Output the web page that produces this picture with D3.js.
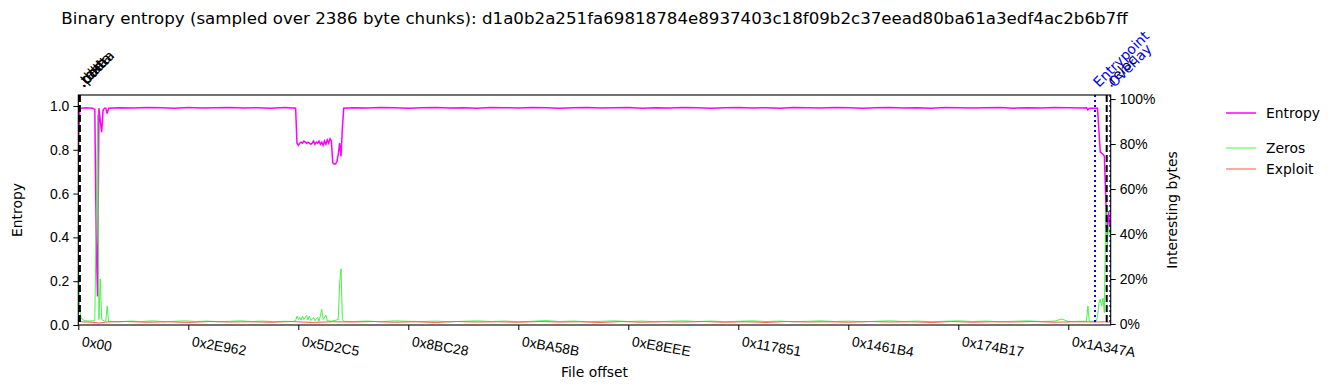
<!DOCTYPE html>
<html>
<head>
<meta charset="utf-8">
<script src="https://cdn.jsdelivr.net/npm/d3@7"></script>
<style>
  body { margin: 0; background: #fff; }
  svg { font-family: "DejaVu Sans", sans-serif; }
</style>
</head>
<body>
<div id="chart"></div>
<script>
// Binary entropy chart: entropy on the left axis, interesting-byte ratios on the right

const title = 'Binary entropy (sampled over 2386 byte chunks): d1a0b2a251fa69818784e8937403c18f09b2c37eead80ba61a3edf4ac2b6b7ff';
const chunkSize = 2386;
const fileEnd = 1790932;

// [chunk index, entropy 0..1]
const entropy = [
    [0, 0.78], [1, 0.98], [2, 0.99], [6, 0.992], [10, 0.99], [12, 0.985], [13, 0.40], [14, 0.13],
    [15, 0.99], [16, 0.93], [17, 0.88], [18, 0.98], [19, 0.99], [20, 0.99], [21, 0.965], [22, 0.99],
    [30, 0.992], [40, 0.991], [50, 0.993], [60, 0.992], [70, 0.990], [80, 0.993], [90, 0.991],
    [100, 0.992], [110, 0.993], [120, 0.991], [130, 0.992], [140, 0.990], [150, 0.993], [156, 0.991],
    [158, 0.99], [159, 0.83], [160, 0.82], [161, 0.83], [162, 0.835], [163, 0.83], [164, 0.84],
    [165, 0.835], [166, 0.83], [167, 0.835], [168, 0.83], [169, 0.825], [170, 0.83], [171, 0.84],
    [172, 0.825], [173, 0.835], [174, 0.83], [175, 0.84], [176, 0.825], [177, 0.835], [178, 0.82],
    [179, 0.84], [180, 0.825], [181, 0.845], [182, 0.83], [183, 0.85], [184, 0.84], [185, 0.74],
    [186, 0.735], [187, 0.735], [188, 0.745], [189, 0.78], [190, 0.83], [191, 0.77], [192, 0.90],
    [193, 0.99], [200, 0.992], [210, 0.991], [220, 0.993], [230, 0.992], [240, 0.990], [250, 0.992],
    [260, 0.993], [270, 0.991], [280, 0.992], [290, 0.990], [300, 0.993], [310, 0.992], [320, 0.991],
    [330, 0.993], [340, 0.992], [350, 0.990], [360, 0.992], [370, 0.993], [380, 0.991], [390, 0.992],
    [400, 0.993], [410, 0.990], [420, 0.992], [430, 0.991], [440, 0.993], [450, 0.992], [460, 0.990],
    [470, 0.992], [480, 0.993], [490, 0.991], [500, 0.992], [510, 0.990], [520, 0.993], [530, 0.992],
    [540, 0.991], [550, 0.993], [560, 0.992], [570, 0.990], [580, 0.992], [590, 0.993], [600, 0.991],
    [610, 0.992], [620, 0.990], [630, 0.993], [640, 0.992], [650, 0.991], [660, 0.992], [670, 0.993],
    [680, 0.990], [690, 0.992], [700, 0.991], [710, 0.993], [720, 0.992], [730, 0.991], [733, 0.992],
    [734, 0.982], [735, 0.99], [741, 0.99], [742, 0.89], [743, 0.79], [744, 0.785], [745, 0.78],
    [746, 0.77], [747, 0.58], [748, 0.40], [749, 0.52], [750, 0.45]
];

// [chunk index, share of zero bytes 0..1]
const zeros = [
    [0, 0.33], [1, 0.06], [2, 0.03], [3, 0.02], [5, 0.015], [8, 0.013], [12, 0.015], [13, 0.45],
    [14, 0.93], [15, 0.02], [16, 0.20], [17, 0.02], [19, 0.013], [20, 0.015], [21, 0.08], [22, 0.012],
    [30, 0.010], [38, 0.013], [46, 0.011], [54, 0.014], [62, 0.010], [70, 0.012], [78, 0.014],
    [86, 0.011], [94, 0.013], [102, 0.010], [110, 0.012], [118, 0.014], [126, 0.011], [134, 0.013],
    [142, 0.010], [150, 0.012], [156, 0.011], [158, 0.015], [159, 0.035], [160, 0.02], [161, 0.03],
    [162, 0.018], [163, 0.035], [164, 0.02], [166, 0.038], [167, 0.018], [168, 0.035], [169, 0.015],
    [171, 0.028], [172, 0.015], [174, 0.03], [175, 0.012], [177, 0.065], [178, 0.02], [180, 0.04],
    [181, 0.015], [184, 0.012], [189, 0.02], [190, 0.18], [191, 0.245], [192, 0.02], [193, 0.012],
    [200, 0.011], [210, 0.013], [220, 0.010], [230, 0.014], [240, 0.012], [250, 0.011], [260, 0.013],
    [270, 0.010], [280, 0.012], [290, 0.014], [300, 0.011], [310, 0.013], [320, 0.010], [330, 0.012],
    [340, 0.015], [350, 0.011], [360, 0.013], [370, 0.010], [380, 0.012], [390, 0.014], [400, 0.011],
    [410, 0.013], [420, 0.010], [430, 0.012], [440, 0.014], [450, 0.011], [460, 0.013], [470, 0.010],
    [480, 0.012], [490, 0.014], [500, 0.011], [510, 0.013], [520, 0.010], [530, 0.012], [540, 0.014],
    [550, 0.011], [560, 0.013], [570, 0.010], [580, 0.012], [590, 0.014], [600, 0.011], [610, 0.013],
    [620, 0.010], [630, 0.012], [640, 0.014], [650, 0.011], [660, 0.013], [670, 0.010], [680, 0.012],
    [690, 0.014], [700, 0.011], [710, 0.013], [715, 0.022], [720, 0.011], [730, 0.012], [733, 0.012],
    [734, 0.08], [735, 0.012], [740, 0.012], [741, 0.03], [742, 0.09], [743, 0.11], [744, 0.08],
    [745, 0.115], [746, 0.05], [747, 0.52], [748, 0.34], [749, 0.44], [750, 0.40]
];

// [chunk index, share of exploit-pattern bytes 0..1]
const exploit = [
    [0, 0.015], [2, 0.010], [10, 0.008], [15, 0.004], [20, 0.009], [35, 0.011], [50, 0.008],
    [65, 0.010], [80, 0.007], [95, 0.011], [110, 0.009], [125, 0.010], [140, 0.008], [155, 0.011],
    [170, 0.007], [185, 0.010], [200, 0.009], [215, 0.011], [230, 0.008], [245, 0.010], [260, 0.007],
    [275, 0.011], [290, 0.009], [305, 0.010], [320, 0.008], [335, 0.011], [350, 0.009], [365, 0.010],
    [380, 0.007], [395, 0.011], [410, 0.008], [425, 0.010], [440, 0.009], [455, 0.011], [470, 0.008],
    [485, 0.010], [500, 0.007], [515, 0.011], [530, 0.009], [545, 0.010], [560, 0.008], [575, 0.011],
    [590, 0.009], [605, 0.010], [620, 0.007], [635, 0.011], [650, 0.008], [665, 0.010], [680, 0.009],
    [695, 0.011], [710, 0.008], [725, 0.010], [740, 0.009], [746, 0.010], [750, 0.008]
];

const xTickLabels = ['0x00', '0x2E962', '0x5D2C5', '0x8BC28', '0xBA58B', '0xE8EEE',
    '0x117851', '0x1461B4', '0x174B17', '0x1A347A'];
const leftTicks = [0, 0.2, 0.4, 0.6, 0.8, 1.0];
const rightTicks = [0, 0.2, 0.4, 0.6, 0.8, 1.0];

const sectionNames = ['.text', '.rdata', '.data', '.pdata', '.reloc'];
const sectionOffsets = [0x400, 0x600, 0x800, 0xA00, 1784000];
const markerNames = ['Entrypoint', 'Overlay'];
const markerOffsets = [1763700, 1790300];

const legendItems = [
    { label: 'Entropy', color: '#ff00ff', width: 1.5, y: 113 },
    { label: 'Zeros', color: '#44f544', width: 1, y: 148 },
    { label: 'Exploit', color: '#ff5a3c', width: 1, y: 169 }
];

const W = 1335, H = 390;
const margin = { top: 95, left: 78.3 };
const width = 1032.4;
const height = 230;
const fs = '13.9px';

const svg = d3.select('#chart').append('svg')
    .attr('width', W)
    .attr('height', H);

svg.append('text')
    .attr('x', margin.left + width / 2)
    .attr('y', 24)
    .attr('text-anchor', 'middle')
    .style('font-size', '16.67px')
    .text(title);

const g = svg.append('g')
    .attr('transform', `translate(${margin.left},${margin.top})`);

// Scales
const x = d3.scaleLinear().domain([0, fileEnd]).range([0, width]);
const yLeft = d3.scaleLinear().domain([0, 1.05]).range([height, 0]);
const yRight = d3.scaleLinear().domain([-0.0044, 1.0178]).range([height, 0]);

g.append('defs').append('clipPath').attr('id', 'plot-clip')
    .append('rect').attr('width', width).attr('height', height);

const plot = g.append('g').attr('clip-path', 'url(#plot-clip)');

const entropyLine = d3.line()
    .x(d => x(d[0] * chunkSize))
    .y(d => yLeft(d[1]));

const ratioLine = d3.line()
    .x(d => x(d[0] * chunkSize))
    .y(d => yRight(d[1]));

plot.append('path')
    .datum(entropy)
    .attr('fill', 'none')
    .attr('stroke', legendItems[0].color)
    .attr('stroke-width', 1.5)
    .attr('d', entropyLine);

plot.append('path')
    .datum(zeros)
    .attr('fill', 'none')
    .attr('stroke', legendItems[1].color)
    .attr('stroke-width', 1)
    .attr('d', ratioLine);

plot.append('path')
    .datum(exploit)
    .attr('fill', 'none')
    .attr('stroke', legendItems[2].color)
    .attr('stroke-width', 1)
    .attr('d', ratioLine);

// Section boundaries (black dashed) and markers (blue dotted)
sectionOffsets.forEach((off, i) => {
    const px = x(off);
    plot.append('line')
        .attr('x1', px).attr('x2', px)
        .attr('y1', 0).attr('y2', height)
        .attr('stroke', '#000')
        .attr('stroke-width', 2)
        .attr('stroke-dasharray', '7,3');
    g.append('text')
        .attr('transform', `translate(${px + 4},${-7}) rotate(-45)`)
        .style('font-size', fs)
        .style('fill', '#000')
        .text(sectionNames[i]);
});

markerOffsets.forEach((off, i) => {
    const px = x(off);
    plot.append('line')
        .attr('x1', px).attr('x2', px)
        .attr('y1', 0).attr('y2', height)
        .attr('stroke', '#0000ff')
        .attr('stroke-width', 2)
        .attr('stroke-dasharray', '2,3');
    g.append('text')
        .attr('transform', `translate(${px + 4},${-7}) rotate(-45)`)
        .style('font-size', fs)
        .style('fill', '#0000ff')
        .text(markerNames[i]);
});

// Axes
const xAxis = g.append('g')
    .attr('transform', `translate(0,${height})`)
    .call(d3.axisBottom(x)
        .tickValues(xTickLabels.map(s => parseInt(s, 16)))
        .tickFormat((d, i) => xTickLabels[i])
        .tickSize(5)
        .tickSizeOuter(0));
xAxis.select('.domain').remove();
xAxis.selectAll('text')
    .attr('x', 0).attr('y', 0).attr('dy', 0)
    .attr('text-anchor', 'start')
    .attr('transform', 'translate(2.5,21) rotate(10)')
    .style('font-size', fs)
    .style('fill', '#000');

const yAxisL = g.append('g')
    .call(d3.axisLeft(yLeft)
        .tickValues(leftTicks)
        .tickFormat(d3.format('.1f'))
        .tickSize(5)
        .tickPadding(4)
        .tickSizeOuter(0));
yAxisL.select('.domain').remove();
yAxisL.selectAll('text').style('font-size', fs).style('fill', '#000');

const yAxisR = g.append('g')
    .attr('transform', `translate(${width},0)`)
    .call(d3.axisRight(yRight)
        .tickValues(rightTicks)
        .tickFormat(d => Math.round(d * 100) + '%')
        .tickSize(5)
        .tickPadding(4)
        .tickSizeOuter(0));
yAxisR.select('.domain').remove();
yAxisR.selectAll('text').style('font-size', fs).style('fill', '#000');

// Frame
g.append('rect')
    .attr('width', width)
    .attr('height', height)
    .attr('fill', 'none')
    .attr('stroke', '#000')
    .attr('stroke-width', 1.1);

// Axis titles
svg.append('text')
    .attr('transform', `translate(22,${margin.top + height / 2}) rotate(-90)`)
    .attr('text-anchor', 'middle')
    .style('font-size', fs)
    .text('Entropy');

svg.append('text')
    .attr('transform', `translate(1177,${margin.top + height / 2}) rotate(-90)`)
    .attr('text-anchor', 'middle')
    .style('font-size', fs)
    .text('Interesting bytes');

svg.append('text')
    .attr('x', margin.left + width / 2)
    .attr('y', 377)
    .attr('text-anchor', 'middle')
    .style('font-size', fs)
    .text('File offset');

// Legend
const legend = svg.append('g').attr('transform', 'translate(1226,0)');
legendItems.forEach(item => {
    legend.append('line')
        .attr('x1', 0).attr('x2', 30)
        .attr('y1', item.y).attr('y2', item.y)
        .attr('stroke', item.color)
        .attr('stroke-width', item.width);
    legend.append('text')
        .attr('x', 40)
        .attr('y', item.y + 5)
        .style('font-size', fs)
        .text(item.label);
});
</script>
</body>
</html>
